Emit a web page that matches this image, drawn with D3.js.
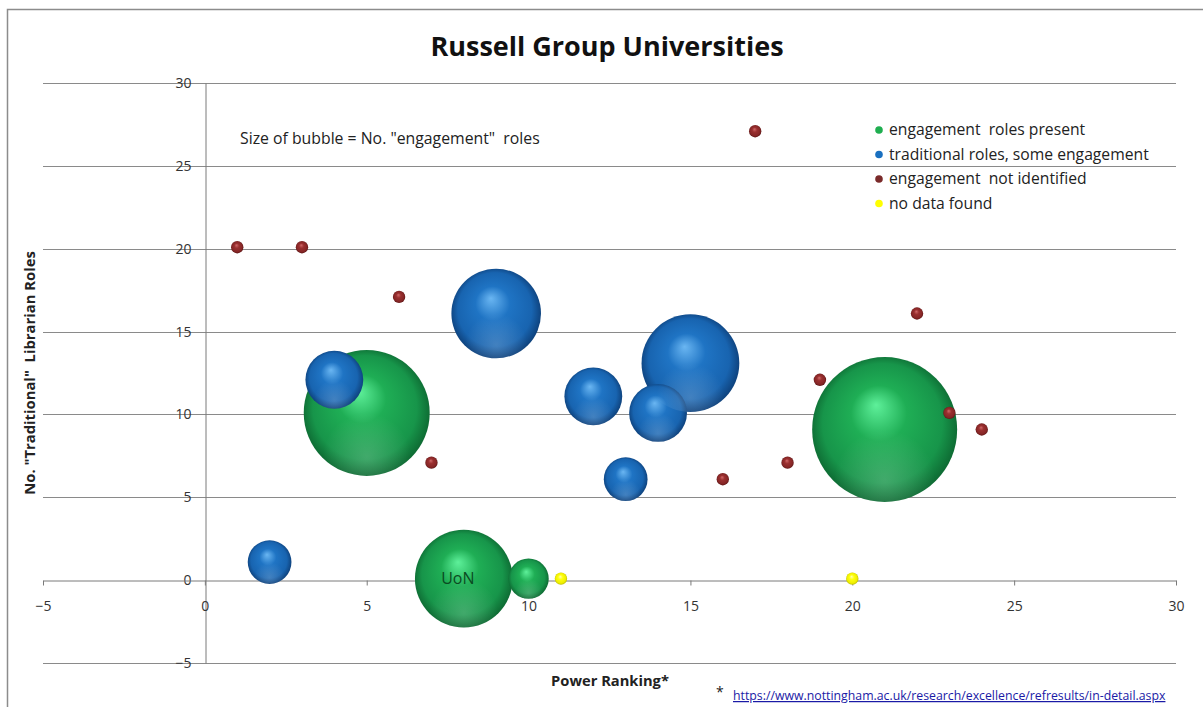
<!DOCTYPE html>
<html><head><meta charset="utf-8">
<script src="https://cdn.jsdelivr.net/npm/d3@7"></script>
<style>
html,body{margin:0;padding:0;background:#fff;}
svg text{font-family:"Open Sans",sans-serif;white-space:pre;}
</style></head>
<body>
<svg id="c" width="1203" height="707"></svg>
<script>
// ---- data ----
const xTicks = [-5, 0, 5, 10, 15, 20, 25, 30];
const yTicks = [-5, 0, 5, 10, 15, 20, 25, 30];

const seriesNames = ["engagement  roles present", "traditional roles, some engagement", "engagement  not identified", "no data found"];

const greenX = [5, 21, 8, 10];
const greenY = [10, 9, 0, 0];
const greenSize = [8.3, 11, 5, 0.85];
const greenLabel = ["", "", "UoN", ""];

const blueX = [2, 4, 9, 12, 15, 14, 13];
const blueY = [1, 12, 16, 11, 13, 10, 6];
const blueSize = [1, 1.75, 4.2, 1.75, 5, 1.75, 1];

const brownX = [1, 3, 6, 7, 17, 16, 18, 19, 22, 23, 24];
const brownY = [20, 20, 17, 7, 27, 6, 7, 12, 16, 10, 9];
const brownSize = [0.08, 0.08, 0.08, 0.08, 0.08, 0.08, 0.08, 0.08, 0.08, 0.08, 0.08];

const yellowX = [11, 20];
const yellowY = [0, 0];
const yellowSize = [0.08, 0.08];

// ---- chart ----
const svg = d3.select("#c");
const x = d3.scaleLinear().domain([-5, 30]).range([43, 1176]);
const y = d3.scaleLinear().domain([-5, 30]).range([663, 83]);
const r = d3.scaleSqrt().domain([0, 11]).range([0, 72.5]);

const palettes = [
  {id: "g", hi: "#5ef09a", mid: "#1fae55", main: "#17954a", edge: "#0a5a2a", flat: "#1fae50"},
  {id: "b", hi: "#6ab6f2", mid: "#1f74c4", main: "#1864b0", edge: "#0a3468", flat: "#1a70c0"},
  {id: "r", hi: "#d06868", mid: "#9a3030", main: "#862626", edge: "#4e1010", flat: "#7a2a2a"},
  {id: "y", hi: "#ffffb0", mid: "#ffff10", main: "#eeee00", edge: "#a8a800", flat: "#ffff00"}
];

const defs = svg.append("defs");
palettes.forEach(p => {
  const g = defs.append("radialGradient").attr("id", "grad-" + p.id)
    .attr("cx", "0.5").attr("cy", "0.5").attr("r", "0.55")
    .attr("fx", "0.44").attr("fy", "0.33");
  g.append("stop").attr("offset", "0").attr("stop-color", p.hi);
  g.append("stop").attr("offset", "0.35").attr("stop-color", p.mid);
  g.append("stop").attr("offset", "0.75").attr("stop-color", p.main);
  g.append("stop").attr("offset", "1").attr("stop-color", p.edge);
});
const glow = defs.append("radialGradient").attr("id", "glow")
  .attr("cx", "0.5").attr("cy", "0.85").attr("r", "0.35");
glow.append("stop").attr("offset", "0").attr("stop-color", "#fff").attr("stop-opacity", 0.18);
glow.append("stop").attr("offset", "1").attr("stop-color", "#fff").attr("stop-opacity", 0);

// outer frame
svg.append("path").attr("d", "M7.5,707 L7.5,9.5 L1203,9.5")
  .attr("fill", "none").attr("stroke", "#8c8c8c").attr("stroke-width", 1.5);

// title
svg.append("text").attr("x", 607).attr("y", 56).attr("text-anchor", "middle")
  .attr("font-size", 27).attr("font-weight", "bold").attr("fill", "#111")
  .text("Russell Group Universities");

// gridlines
svg.append("g").selectAll("line").data(yTicks.filter(d => d !== 0)).join("line")
  .attr("x1", x(-5)).attr("x2", x(30))
  .attr("y1", d => Math.round(y(d)) + 0.5).attr("y2", d => Math.round(y(d)) + 0.5)
  .attr("stroke", "#8a8a8a").attr("stroke-width", 1);

// y axis (at x=0)
const yAxis = d3.axisLeft(y).tickValues(yTicks).tickSize(0).tickPadding(14);
const gy = svg.append("g").attr("transform", `translate(${Math.round(x(0)) + 0.5},0)`).call(yAxis);
gy.select(".domain").attr("stroke", "#7a7a7a");
gy.selectAll("text").attr("font-size", 14).attr("fill", "#333").attr("font-family", "'Open Sans', sans-serif");

// x axis (at y=0)
const xAxis = d3.axisBottom(x).tickValues(xTicks).tickSize(5).tickPadding(16).tickSizeOuter(0);
const gx = svg.append("g").attr("transform", `translate(0,${Math.round(y(0)) + 0.5})`).call(xAxis);
gx.select(".domain").attr("stroke", "#7a7a7a");
gx.selectAll(".tick line").attr("stroke", "#7a7a7a");
gx.selectAll("text").attr("font-size", 14).attr("fill", "#333").attr("font-family", "'Open Sans', sans-serif");

// axis titles
svg.append("text").attr("transform", `translate(35,${(y(5) + y(20)) / 2}) rotate(-90)`)
  .attr("text-anchor", "middle").attr("font-size", 14.8).attr("font-weight", "bold").attr("fill", "#222")
  .text('No. "Traditional"  Librarian Roles');
svg.append("text").attr("x", 610).attr("y", 686).attr("text-anchor", "middle")
  .attr("font-size", 14.7).attr("font-weight", "bold").attr("fill", "#222")
  .text("Power Ranking*");

// annotation
svg.append("text").attr("x", 240).attr("y", 144).attr("font-size", 15.8).attr("fill", "#222")
  .text('Size of bubble = No. "engagement"  roles');

// bubbles
function toPts(xs, ys, ss, lbl) {
  return xs.map((v, i) => ({x: v, y: ys[i], s: ss[i], label: lbl ? lbl[i] : ""}))
    .sort((a, b) => b.s - a.s);
}
const series = [
  toPts(greenX, greenY, greenSize, greenLabel),
  toPts(blueX, blueY, blueSize),
  toPts(brownX, brownY, brownSize),
  toPts(yellowX, yellowY, yellowSize)
];
series.forEach((pts, si) => {
  const g = svg.append("g");
  const p = palettes[si];
  g.selectAll("circle.ball").data(pts).join("circle").attr("class", "ball")
    .attr("cx", d => x(d.x)).attr("cy", d => y(d.y) - 1.5).attr("r", d => r(d.s))
    .attr("fill", `url(#grad-${p.id})`);
  g.selectAll("circle.glow").data(pts.filter(d => r(d.s) > 15)).join("circle").attr("class", "glow")
    .attr("cx", d => x(d.x)).attr("cy", d => y(d.y) - 1.5).attr("r", d => r(d.s))
    .attr("fill", "url(#glow)");
  g.selectAll("text").data(pts.filter(d => d.label)).join("text")
    .attr("x", d => x(d.x) - 6).attr("y", d => y(d.y) + 4)
    .attr("text-anchor", "middle").attr("font-size", 16).attr("fill", "#0b4a22")
    .text(d => d.label);
});

// legend
const leg = svg.append("g");
seriesNames.forEach((n, i) => {
  const yy = 130 + i * 24.5;
  leg.append("circle").attr("cx", 879).attr("cy", yy).attr("r", 3.8).attr("fill", palettes[i].flat);
  leg.append("text").attr("x", 889).attr("y", yy + 5).attr("font-size", 15.7).attr("fill", "#222").text(n);
});

// footnote
svg.append("text").attr("x", 716).attr("y", 697).attr("font-size", 14).attr("fill", "#222").text("*");
svg.append("text").attr("x", 733).attr("y", 700).attr("font-size", 12.3).attr("fill", "#1a1aa6")
  .attr("text-decoration", "underline")
  .text("https://www.nottingham.ac.uk/research/excellence/refresults/in-detail.aspx");
</script>
</body></html>
